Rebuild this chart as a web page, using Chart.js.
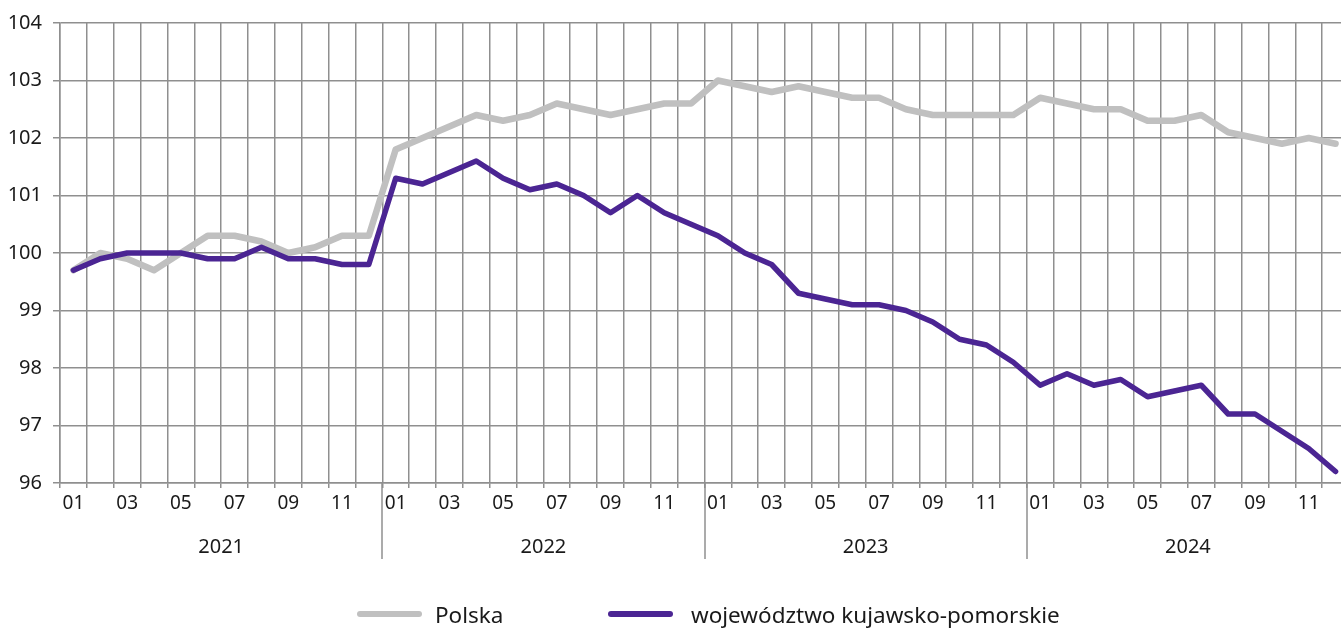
<!DOCTYPE html>
<html lang="pl">
<head>
<meta charset="utf-8">
<title>Polska i województwo kujawsko-pomorskie</title>
<script src="https://cdn.jsdelivr.net/npm/chart.js@4.4.1/dist/chart.umd.min.js"></script>
<style>
    html, body { margin: 0; padding: 0; background: #fff; overflow: hidden; }
    #wrap { position: relative; width: 1341px; height: 628px; overflow: hidden; }
    #chart { position: absolute; left: 0; top: 0; }
    .legend-item { position: absolute; top: 600px; height: 28px; display: flex; align-items: center;
        font-family: "Noto Sans", sans-serif; font-size: 22.5px; color: #1a1a1a; }
    .swatch { display: inline-block; width: 65px; height: 6px; border-radius: 3px; margin-right: 13px; }
</style>
</head>
<body>
<div id="wrap">
    <canvas id="chart" width="1350" height="628"></canvas>
    <div class="legend-item" style="left:357px"><span class="swatch" style="background:#c0c0c0"></span>Polska</div>
    <div class="legend-item" style="left:608px"><span class="swatch" style="background:#4b2593;margin-right:18px"></span>województwo kujawsko-pomorskie</div>
</div>
<script>
// categories
const years = ['2021', '2022', '2023', '2024'];
const monthLabels = ['01', '02', '03', '04', '05', '06', '07', '08', '09', '10', '11', '12'];

// series values
const polska = [
    99.7, 100.0, 99.9, 99.7, 100.0, 100.3, 100.3, 100.2, 100.0, 100.1, 100.3, 100.3,
    101.8, 102.0, 102.2, 102.4, 102.3, 102.4, 102.6, 102.5, 102.4, 102.5, 102.6, 102.6,
    103.0, 102.9, 102.8, 102.9, 102.8, 102.7, 102.7, 102.5, 102.4, 102.4, 102.4, 102.4,
    102.7, 102.6, 102.5, 102.5, 102.3, 102.3, 102.4, 102.1, 102.0, 101.9, 102.0, 101.9
];
const kujawskoPomorskie = [
    99.7, 99.9, 100.0, 100.0, 100.0, 99.9, 99.9, 100.1, 99.9, 99.9, 99.8, 99.8,
    101.3, 101.2, 101.4, 101.6, 101.3, 101.1, 101.2, 101.0, 100.7, 101.0, 100.7, 100.5,
    100.3, 100.0, 99.8, 99.3, 99.2, 99.1, 99.1, 99.0, 98.8, 98.5, 98.4, 98.1,
    97.7, 97.9, 97.7, 97.8, 97.5, 97.6, 97.7, 97.2, 97.2, 96.9, 96.6, 96.2
];

// y axis range
const yMin = 96;
const yMax = 104;

const categories = [];
years.forEach(y => monthLabels.forEach(m => categories.push(y + '-' + m)));

const GRID = '#8f8f8f';
const TEXT = '#1a1a1a';
const FONT = '"Noto Sans", sans-serif';

// year row under the month labels
const yearRow = {
    id: 'yearRow',
    afterDraw(chart) {
        const ctx = chart.ctx;
        const x = chart.scales.x;
        const bottom = chart.chartArea.bottom;
        ctx.save();
        ctx.strokeStyle = GRID;
        ctx.lineWidth = 1.5;
        for (let k = 1; k < years.length; k++) {
            const px = Math.round((x.getPixelForValue(12 * k - 1) + x.getPixelForValue(12 * k)) / 2);
            ctx.beginPath();
            ctx.moveTo(px, bottom);
            ctx.lineTo(px, 559);
            ctx.stroke();
        }
        ctx.fillStyle = TEXT;
        ctx.font = '20px ' + FONT;
        ctx.textAlign = 'center';
        ctx.textBaseline = 'middle';
        years.forEach((y, k) => {
            const cx = (x.getPixelForValue(12 * k + 5) + x.getPixelForValue(12 * k + 6)) / 2;
            ctx.fillText(y, cx, 547);
        });
        ctx.restore();
    }
};

new Chart(document.getElementById('chart'), {
    type: 'line',
    data: {
        labels: categories,
        datasets: [{
            label: 'Polska',
            data: polska,
            borderColor: '#c0c0c0',
            borderWidth: 6.5,
            borderCapStyle: 'round',
            borderJoinStyle: 'round',
            pointRadius: 0,
            tension: 0,
            order: 2
        }, {
            label: 'województwo kujawsko-pomorskie',
            data: kujawskoPomorskie,
            borderColor: '#4b2593',
            borderWidth: 5.5,
            borderCapStyle: 'round',
            borderJoinStyle: 'round',
            pointRadius: 0,
            tension: 0,
            order: 1
        }]
    },
    options: {
        responsive: false,
        animation: false,
        layout: { padding: { top: 23, right: 1, bottom: 0, left: 0 } },
        plugins: {
            legend: { display: false },
            tooltip: { enabled: false }
        },
        scales: {
            x: {
                offset: true,
                afterFit(scale) { scale.height = 145; },
                grid: { offset: true, color: GRID, lineWidth: 1.5, tickLength: 5 },
                border: { color: GRID, width: 1.5 },
                ticks: {
                    autoSkip: false,
                    maxRotation: 0,
                    padding: 4,
                    color: TEXT,
                    font: { family: FONT, size: 19 },
                    callback: (v, i) => i % 2 === 0 ? monthLabels[i % 12] : ''
                }
            },
            y: {
                min: yMin,
                max: yMax,
                afterFit(scale) { scale.width = 60; },
                grid: { color: GRID, lineWidth: 1.5, tickLength: 7 },
                border: { color: GRID, width: 1.5 },
                ticks: {
                    stepSize: 1,
                    padding: 11,
                    color: TEXT,
                    font: { family: FONT, size: 20 }
                }
            }
        }
    },
    plugins: [yearRow]
});
</script>
</body>
</html>
